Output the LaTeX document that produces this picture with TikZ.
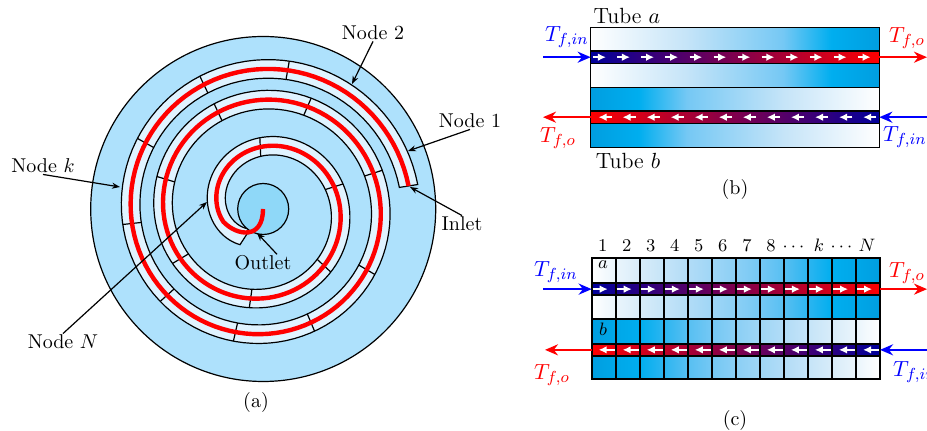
\documentclass[tikz,border=0pt]{standalone}
\usepackage{amsmath,amssymb}
\usepackage{tikz}
\usetikzlibrary{positioning,calc}
\usetikzlibrary{arrows.meta}
\definecolor{DiscBlue}{RGB}{174,225,252}
\definecolor{CoreBlue}{RGB}{143,216,248}
\definecolor{BandBlue}{RGB}{224,243,255}
\definecolor{FlowBlue}{RGB}{0,0,155}
\definecolor{FlowRed}{RGB}{255,0,0}
\definecolor{tube0}{HTML}{FFFFFF}\definecolor{tube1}{HTML}{EAF5FC}\definecolor{tube2}{HTML}{D8ECF9}
\definecolor{tube3}{HTML}{C5E4F8}\definecolor{tube4}{HTML}{B2DCF7}\definecolor{tube5}{HTML}{9FD6F6}
\definecolor{tube6}{HTML}{8BCFF5}\definecolor{tube7}{HTML}{75C8F4}\definecolor{tube8}{HTML}{57BFF2}
\definecolor{tube9}{HTML}{2CB5F0}\definecolor{tube10}{HTML}{00AEEF}\definecolor{tube11}{HTML}{00A7E8}
\definecolor{tube12}{HTML}{009EE0}
\pgfdeclarehorizontalshading{tubeshade}{100bp}{color(0bp)=(tube0); color(25bp)=(tube0); color(41.67bp)=(tube3);
  color(58.33bp)=(tube7); color(66.67bp)=(tube10); color(75bp)=(tube12); color(100bp)=(tube12)}
\tikzset{
  declare function={spiralr(\a)=148-33.5*(\a/360)+7*(\a/360)^2-4*(\a/360)^3;},
  disc/.style={circle,draw=black,line width=0.6pt,inner sep=0pt},
  wall/.style={draw=black,line width=0.6pt},
  heater/.style={draw=FlowRed,line width=2.2pt},
  lab/.style={inner sep=0.5pt},
  pointer/.style={draw=black,line width=0.6pt,-{Stealth[length=4pt,width=3pt]}},
  flowin/.style={draw=blue,line width=1.3pt,-{Stealth[length=6.5pt,width=5.5pt]}},
  flowout/.style={draw=red,line width=1.3pt,-{Stealth[length=6.5pt,width=5.5pt]}},
  whiteflow/.style={draw=white,line width=0.75pt,-{Latex[length=4pt,width=3.8pt]}},
  tl/.style={inner sep=0pt,font=\fontsize{11}{13}\selectfont},
  box/.style={draw=black,line width=0.6pt,inner sep=0pt,outer sep=0pt,anchor=north west},
  cell/.style={draw=black,line width=0.9pt,inner sep=0pt,outer sep=0pt,anchor=north west,minimum width=12pt},
}

\begin{document}
\begin{tikzpicture}[x=0.5pt,y=-0.5pt]
\useasboundingbox (0,0) rectangle (927,431);
% spiral
\node[disc,fill=DiscBlue,minimum size=172.5pt] (disc) at (263.2,209) {};
\draw[wall,fill=BandBlue] plot[domain=9:957,samples=260,variable=\a] ({263.2+(spiralr(\a)+9.3)*cos(\a)},{209-(spiralr(\a)+9.3)*sin(\a)})
  -- plot[domain=957:9,samples=260,variable=\a] ({263.2+(spiralr(\a)-9.3)*cos(\a)},{209-(spiralr(\a)-9.3)*sin(\a)}) -- cycle;
\foreach \a in {80,115.5,150.7,186.3,221.9,257.3,292.8,329.6,378,426.6,475,523,571,622,677,737.4,812.7}
  \draw[wall] ({263.2+(spiralr(\a)+9.3)*cos(\a)},{209-(spiralr(\a)+9.3)*sin(\a)}) -- ({263.2+(spiralr(\a)-9.3)*cos(\a)},{209-(spiralr(\a)-9.3)*sin(\a)});
\node[disc,fill=CoreBlue,minimum size=25.5pt] (core) at (263.2,209) {};
\draw[heater] plot[domain=9:918,samples=260,variable=\a] ({263.2+spiralr(\a)*cos(\a)},{209-spiralr(\a)*sin(\a)})
  .. controls (237,236) and (263,240) .. (263,209);
% labels of the spiral
\coordinate (tip2) at (352,84);
\coordinate (tip1) at (408,151);
\coordinate (tipin) at (410,187);
\coordinate (tipk) at (120,187);
\coordinate (tipN) at (207,202);
\coordinate (tipout) at (257,233);
\node[lab] (lab2) at (373,33) {Node 2};
\node[lab] (lab1) at (470,121) {Node 1};
\node[lab] (labin) at (462,224) {Inlet};
\node[lab] (labk) at (43,166) {Node $k$};
\node[lab] (labN) at (63,342) {Node $N$};
\node[lab] (labout) at (263,263) {Outlet};
\draw[pointer] (lab2.south) -- (tip2);
\draw[pointer] (lab1.south) -- (tip1);
\draw[pointer] (labin.north) -- (tipin);
\draw[pointer] (labk.south) -- (tipk);
\draw[pointer] (labN.north) -- (tipN);
\draw[pointer] ([xshift=7pt]labout.north) -- (tipout);
\node (capa) at (256,403) {(a)};
% tubes, single block
\node[box,minimum width=144.3pt,minimum height=30pt,shading=tubeshade] (tubeA) at (590.7,27.3) {};
\node[box,minimum width=144.3pt,minimum height=30pt,shading=tubeshade,shading angle=180] (tubeB) at (590.7,87.3) {};
\node[box,minimum width=144.3pt,minimum height=6.2pt,left color=FlowBlue,right color=FlowRed] (flowA) at (590.7,51) {};
\node[box,minimum width=144.3pt,minimum height=6.2pt,left color=FlowRed,right color=FlowBlue] (flowB) at (590.7,111) {};
\foreach \i in {0,...,11} {
  \draw[whiteflow] ([xshift={(1.3+12.03*\i)*1pt}]flowA.west) -- ([xshift={(7.6+12.03*\i)*1pt}]flowA.west);
  \draw[whiteflow] ([xshift={(10.5+12.03*\i)*1pt}]flowB.west) -- ([xshift={(3.9+12.03*\i)*1pt}]flowB.west);
}
\coordinate (inA) at ($(flowA.west)+(-47.7,0)$);
\coordinate (outA) at ($(flowA.east)+(47.7,0)$);
\coordinate (inB) at ($(flowB.east)+(47.7,0)$);
\coordinate (outB) at ($(flowB.west)+(-47.7,0)$);
\draw[flowin] (inA) -- (flowA.west);
\draw[flowout] (flowA.east) -- (outA);
\draw[flowin] (inB) -- (flowB.east);
\draw[flowout] (flowB.west) -- (outB);
\node[tl] (tubea) at (627,16) {Tube $a$};
\node[tl] (tubeb) at (628,161) {Tube $b$};
\node[tl,text=blue] (tinA) at (567,37) {$T_{f,in}$};
\node[tl,text=red] (toutA) at (907,38) {$T_{f,o}$};
\node[tl,text=red] (toutB) at (558,138) {$T_{f,o}$};
\node[tl,text=blue] (tinB) at (905,137) {$T_{f,in}$};
\node (capb) at (735,190) {(b)};
% tubes, split into cells
\foreach \i [evaluate=\i as \j using int(\i+1), evaluate=\i as \m using int(12-\i), evaluate=\i as \n using int(11-\i),
    evaluate=\i as \pl using int(\i*100/12), evaluate=\i as \pr using int((\i+1)*100/12),
    evaluate=\i as \ql using int(100-\i*100/12), evaluate=\i as \qr using int(100-(\i+1)*100/12)] in {0,...,11} {
  \node[cell,minimum height=12.5pt,left color=tube\i,right color=tube\j] (atop\i) at ({591.7+24.03*\i},258.3) {};
  \node[cell,minimum height=11.85pt,left color=tube\i,right color=tube\j] (alow\i) at ({591.7+24.03*\i},295) {};
  \node[cell,minimum height=5.85pt,left color=FlowRed!\pl!FlowBlue,right color=FlowRed!\pr!FlowBlue] (apipe\i) at ({591.7+24.03*\i},283.3) {};
  \node[cell,minimum height=12.65pt,left color=tube\m,right color=tube\n] (btop\i) at ({591.7+24.03*\i},318.7) {};
  \node[cell,minimum height=11.65pt,left color=tube\m,right color=tube\n] (blow\i) at ({591.7+24.03*\i},355.7) {};
  \node[cell,minimum height=5.85pt,left color=FlowRed!\ql!FlowBlue,right color=FlowRed!\qr!FlowBlue] (bpipe\i) at ({591.7+24.03*\i},344) {};
  \draw[whiteflow] ([xshift=-5.5pt]apipe\i.center) -- ([xshift=2pt]apipe\i.center);
  \draw[whiteflow] ([xshift=5.5pt]bpipe\i.center) -- ([xshift=-2.5pt]bpipe\i.center);
}
\foreach \i/\t in {0/1,1/2,2/3,3/4,4/5,5/6,6/7,7/8,8/$\cdots$,9/$k$,10/$\cdots$,11/$N$}
  \node[lab,font=\small,anchor=base] (num\i) at ($(atop\i.north)+(-1,-6.5)$) {\t};
\node[lab,font=\small] (leta) at (603,265) {$a$};
\node[lab,font=\small] (letb) at (603,329) {$b$};
\coordinate (inC) at ($(apipe0.west)+(-48.7,0)$);
\coordinate (outC) at ($(apipe11.east)+(47,0)$);
\coordinate (inD) at ($(bpipe11.east)+(47,0)$);
\coordinate (outD) at ($(bpipe0.west)+(-46.7,0)$);
\draw[flowin] (inC) -- (apipe0.west);
\draw[flowout] (apipe11.east) -- (outC);
\draw[flowin] (inD) -- (bpipe11.east);
\draw[flowout] (bpipe0.west) -- (outD);
\node[tl,text=blue] (tinC) at (556,272) {$T_{f,in}$};
\node[tl,text=red] (toutC) at (907,273) {$T_{f,o}$};
\node[tl,text=red] (toutD) at (552,375) {$T_{f,o}$};
\node[tl,text=blue] (tinD) at (915,372) {$T_{f,in}$};
\node (capc) at (735,421) {(c)};
\end{tikzpicture}
\end{document}
